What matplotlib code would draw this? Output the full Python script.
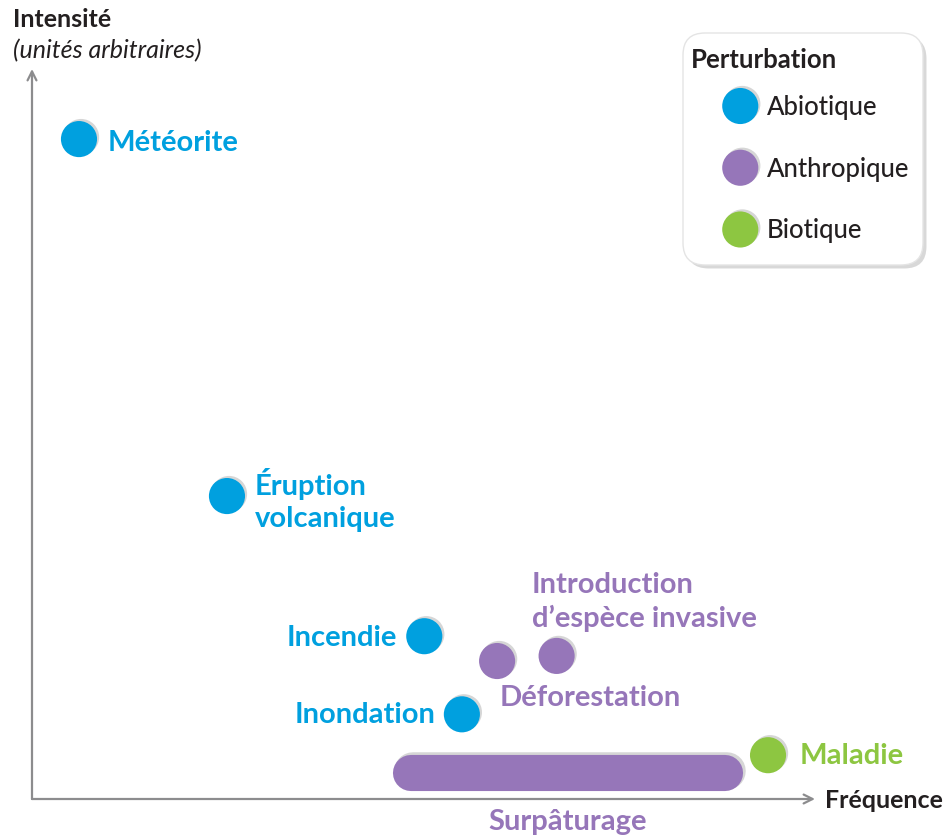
import matplotlib
matplotlib.use("Agg")
import matplotlib.pyplot as plt
from matplotlib.lines import Line2D
from matplotlib.patches import FancyBboxPatch
import matplotlib.patheffects as pe
import matplotlib.transforms as mtransforms

# ---------------- data ----------------
labels = ["Météorite", "Éruption\nvolcanique", "Incendie", "Inondation",
          "Déforestation", "Introduction\nd’espèce invasive", "Maladie"]
categories = ["Abiotique", "Abiotique", "Abiotique", "Abiotique",
              "Anthropique", "Anthropique", "Biotique"]
frequence = [6.0, 24.9, 50.1, 54.9, 59.4, 67.0, 94.0]
intensite = [90.4, 41.5, 22.3, 11.6, 18.9, 19.6, 6.0]

surp_label = "Surpâturage"
surp_freq = [48.4, 88.5]
surp_int = 3.6

legend_title = "Perturbation"
legend_cats = ["Abiotique", "Anthropique", "Biotique"]
colors = {"Abiotique": "#00a0df", "Anthropique": "#9676b9", "Biotique": "#8dc641"}
dark = "#231f20"

# label placement (offset pixels, alignment)
label_offsets = [(29, -4, "left"), (28, -4, "left"), (-27, -2, "right"),
                 (-26, -1, "right"), (3, -37, "left"), (-25, 54, "left"),
                 (32, -1, "left")]

plt.rcParams["font.family"] = ["Lato", "DejaVu Sans"]

W, H = 949, 838
fig = plt.figure(figsize=(W / 100, H / 100), dpi=100)
px = mtransforms.Affine2D().scale(1 / W, 1 / H) + fig.transFigure

ax = fig.add_axes([32 / W, (H - 799) / H, 783 / W, 730 / H])
ax.set_xlim(0, 100)
ax.set_ylim(0, 100)
for s in ax.spines.values():
    s.set_visible(False)
ax.set_xticks([])
ax.set_yticks([])
ax.patch.set_alpha(0)

axis_col = "#8c8c8e"
arrow = dict(arrowstyle="->", color=axis_col, lw=1.6, shrinkA=0, shrinkB=0,
             mutation_scale=16)
ax.annotate("", xy=(0, 1), xytext=(0, 0), xycoords="axes fraction",
            arrowprops=arrow)
ax.annotate("", xy=(1, 0), xytext=(0, 0), xycoords="axes fraction",
            arrowprops=arrow)

shadow = [pe.SimplePatchShadow(offset=(1.5, 1.5), shadow_rgbFace="#bbbbbb", alpha=0.6),
          pe.Normal()]
line_shadow = [pe.SimpleLineShadow(offset=(1.5, 1.5), shadow_color="#bbbbbb",
                                   alpha=0.6, linewidth=27), pe.Normal()]

LFS = 21

# Surpaturage bar
ax.plot(surp_freq, [surp_int, surp_int], color=colors["Anthropique"], lw=26,
        solid_capstyle="round", path_effects=line_shadow, zorder=2)
ax.annotate(surp_label, xy=(sum(surp_freq) / 2, surp_int), xytext=(0, -49),
            textcoords="offset pixels", ha="center", va="center",
            fontsize=LFS, fontweight="bold", color=colors["Anthropique"],
            annotation_clip=False)

for lab, cat, x, y, (dx, dy, ha) in zip(labels, categories, frequence,
                                         intensite, label_offsets):
    ax.scatter([x], [y], s=26 ** 2, color=colors[cat], edgecolors="none",
               path_effects=shadow, zorder=3, clip_on=False)
    ax.annotate(lab, xy=(x, y), xytext=(dx, dy), textcoords="offset pixels",
                ha=ha, va="center", fontsize=LFS, fontweight="bold",
                color=colors[cat], linespacing=1.28, annotation_clip=False)

# axis labels
fig.text(13, H - 20, "Intensité", transform=px, fontsize=18, fontweight="bold",
         color=dark, ha="left", va="center")
fig.text(13, H - 51, "(unités arbitraires)", transform=px, fontsize=18,
         style="italic", color=dark, ha="left", va="center")
fig.text(825, H - 800, "Fréquence", transform=px, fontsize=18, fontweight="bold",
         color=dark, ha="left", va="center")

# legend box
box = FancyBboxPatch((683, H - 265), 240, 232, transform=px,
                     boxstyle="round,pad=0,rounding_size=22",
                     facecolor="white", edgecolor="#e4e4e4", lw=1,
                     path_effects=[pe.SimplePatchShadow(offset=(2.5, -2.5),
                                                        shadow_rgbFace="#c8c8c8",
                                                        alpha=0.7), pe.Normal()],
                     zorder=1)
fig.add_artist(box)
fig.text(691, H - 60, legend_title, transform=px, fontsize=18.5, fontweight="bold",
         color=dark, ha="left", va="center")

handles = [Line2D([], [], ls="none", marker="o", markersize=26,
                  markerfacecolor=colors[c], markeredgecolor="none",
                  path_effects=shadow) for c in legend_cats]
leg = fig.legend(handles, legend_cats, loc="upper left",
                 bbox_to_anchor=(721, H - 95), bbox_transform=px,
                 frameon=False, fontsize=18.5, handlelength=1.5,
                 handletextpad=0.3, labelspacing=1.43, borderpad=0,
                 borderaxespad=0)
for t in leg.get_texts():
    t.set_color(dark)
    t.set_fontweight("medium")

fig.savefig("out.png", dpi=100)
